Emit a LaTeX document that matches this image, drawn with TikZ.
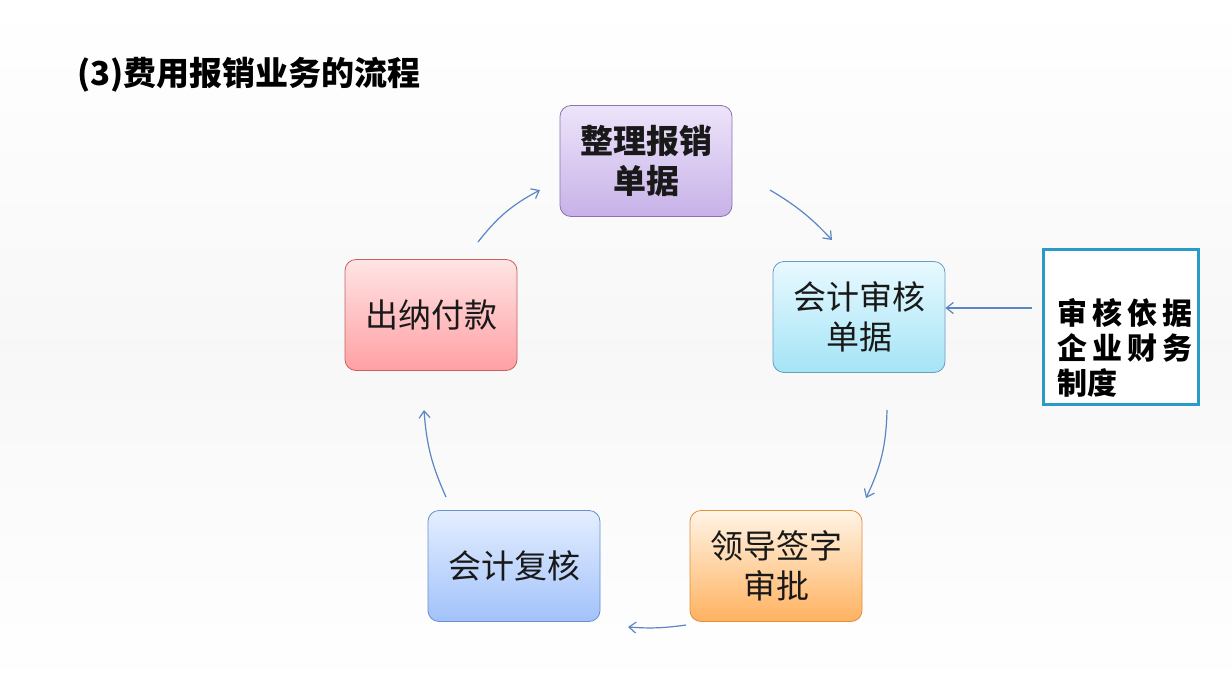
\documentclass[tikz,border=0pt]{standalone}
\usepackage{fontspec}
\setmainfont{Noto Sans CJK SC}
\usetikzlibrary{arrows.meta}
\definecolor{arr}{HTML}{5A86C4}
\definecolor{pt}{HTML}{EDE4FA}\definecolor{pb}{HTML}{C7B2E8}\definecolor{pd}{HTML}{8E72B0}
\definecolor{ct}{HTML}{E8F9FF}\definecolor{cb}{HTML}{A4E4F6}\definecolor{cd}{HTML}{6A9CC0}
\definecolor{ot}{HTML}{FFF4E6}\definecolor{ob}{HTML}{FFB260}\definecolor{od}{HTML}{E0903A}
\definecolor{bt}{HTML}{E4EEFF}\definecolor{bb}{HTML}{A2C2FA}\definecolor{bd}{HTML}{6A8ED0}
\definecolor{rt}{HTML}{FFE4E4}\definecolor{rb}{HTML}{FFA0A4}\definecolor{rd}{HTML}{C86060}
\tikzset{
 box/.style={draw, line width=0.8pt, rounded corners=11pt, minimum width=172pt, minimum height=111pt, align=center, font=\fontsize{33}{40}\selectfont, text=black!90},
 flow/.style={arr, line width=1.2pt, -{Straight Barb[length=7pt,width=11pt]}},
}
\begin{document}
\begin{tikzpicture}[x=1pt,y=-1pt]
\fill[top color=white, bottom color=white, middle color=gray!6] (0,0) rectangle (1232,691);
\useasboundingbox (0,0) rectangle (1232,691);
\node[anchor=west, font=\fontsize{33}{38}\selectfont\bfseries, inner sep=0pt] (title) at (77,75) {(3)费用报销业务的流程};
\node[box, draw=pd, top color=pt, bottom color=pb, font=\fontsize{33}{40}\selectfont\bfseries] (a) at (646,161) {整理报销\\单据};
\node[box, draw=cd, top color=ct, bottom color=cb] (b) at (859,317) {会计审核\\单据};
\node[box, draw=od, top color=ot, bottom color=ob] (c) at (776,566) {领导签字\\审批};
\node[box, draw=bd, top color=bt, bottom color=bb] (d) at (514,566) {会计复核};
\node[box, draw=rd, top color=rt, bottom color=rb] (e) at (431,315) {出纳付款};
\node[draw=cyan!60!teal, line width=2.4pt, fill=white, minimum width=155pt, minimum height=155pt] (r) at (1121,327) {};
\node[anchor=north west, align=left, font=\fontsize{30}{35}\selectfont\bfseries, inner sep=0pt] (rt) at (1057,298) {审\,核\,依\,据\\企\,业\,财\,务\\制度};
\coordinate (a1) at (478,242); \coordinate (a2) at (540,190);
\coordinate (b1) at (770,190); \coordinate (b2) at (832,240);
\coordinate (c1) at (887,410); \coordinate (c2) at (866,498);
\coordinate (d1) at (686,625); \coordinate (d2) at (628,627);
\coordinate (e1) at (446,497); \coordinate (e2) at (424,410);
\coordinate (r1) at (1032,308);
\draw[flow] (a1) to[bend left=12] (a2);
\draw[flow] (b1) to[bend left=8] (b2);
\draw[flow] (c1) to[bend left=12] (c2);
\draw[flow] (d1) to[bend left=6] (d2);
\draw[flow] (e1) to[bend left=10] (e2);
\draw[flow] (r1) -- (b.east |- r1);
\end{tikzpicture}
\end{document}
